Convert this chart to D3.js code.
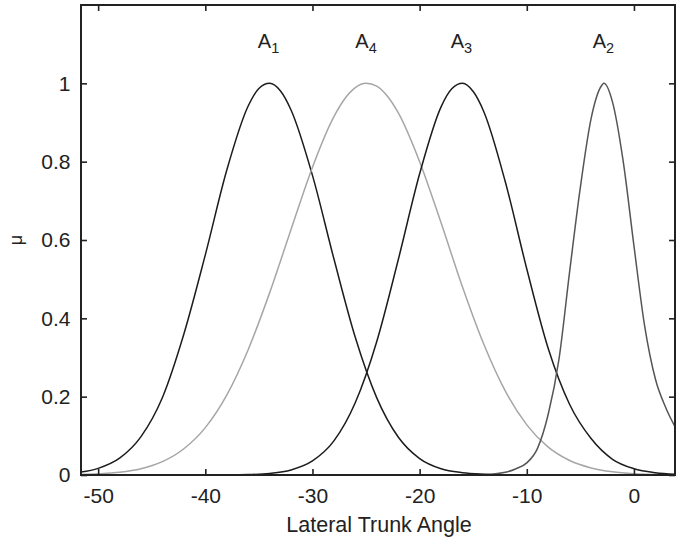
<!DOCTYPE html>
<html>
<head>
<meta charset="utf-8">
<script src="https://cdn.jsdelivr.net/npm/d3@7/dist/d3.min.js"></script>
<style>
  html, body { margin: 0; padding: 0; background: #fff; }
  svg { display: block; }
  text { font-family: "Liberation Sans", Arial, Helvetica, sans-serif; fill: #222; }
</style>
</head>
<body>
<svg id="chart" width="683" height="540"></svg>
<script>
// Membership functions of the lateral trunk angle (degrees)
const angleA1 = [-52, -50, -48, -46, -44, -42, -40, -38, -36, -35, -34, -33, -32, -30, -28, -26, -24, -22, -20, -18, -16, -14, -12];
const muA1    = [0.006, 0.017, 0.043, 0.098, 0.198, 0.360, 0.562, 0.778, 0.942, 0.987, 1.0, 0.981, 0.932, 0.765, 0.552, 0.351, 0.197, 0.097, 0.042, 0.016, 0.006, 0.002, 0.0];

const angleA4 = [-52, -50, -48, -46, -44, -42, -40, -38, -36, -34, -32, -30, -28, -27, -26, -25, -24, -23, -22, -20, -18, -16, -14, -12, -10, -8, -6, -4, -2, 0, 2, 4];
const muA4    = [0.001, 0.003, 0.007, 0.016, 0.034, 0.067, 0.121, 0.204, 0.320, 0.465, 0.627, 0.786, 0.915, 0.960, 0.989, 1.0, 0.993, 0.967, 0.925, 0.800, 0.644, 0.480, 0.333, 0.214, 0.128, 0.071, 0.037, 0.018, 0.008, 0.003, 0.001, 0.0];

const angleA3 = [-38, -36, -34, -32, -30, -28, -26, -24, -22, -20, -18, -17, -16, -15, -14, -12, -10, -8, -6, -4, -2, 0, 2, 4];
const muA3    = [0.0, 0.001, 0.004, 0.013, 0.036, 0.087, 0.185, 0.341, 0.549, 0.769, 0.940, 0.986, 1.0, 0.979, 0.927, 0.748, 0.526, 0.323, 0.180, 0.093, 0.040, 0.016, 0.006, 0.002];

const angleA2 = [-16, -14, -12, -11, -10, -9, -8, -7, -6, -5, -4, -3, -2.8, -2, -1, 0, 1, 2, 3, 4];
const muA2    = [0.0, 0.001, 0.007, 0.016, 0.031, 0.068, 0.155, 0.295, 0.52, 0.735, 0.91, 0.995, 1.0, 0.952, 0.80, 0.585, 0.38, 0.245, 0.17, 0.115];

// Set labels and where they sit (angle of each peak)
const setNames = ["1", "4", "3", "2"];
const setPeaks = [-34.1, -25.0, -16.1, -2.85];

const xTicks = [-50, -40, -30, -20, -10, 0];
const yTicks = [0, 0.2, 0.4, 0.6, 0.8, 1];

const series = [
  { x: angleA1, y: muA1, color: "#1c1c1c" },
  { x: angleA4, y: muA4, color: "#a6a6a6" },
  { x: angleA3, y: muA3, color: "#1c1c1c" },
  { x: angleA2, y: muA2, color: "#555555" }
];

const svg = d3.select("#chart");
const plotLeft = 81, plotRight = 675, plotTop = 5, plotBottom = 475;

const x = d3.scaleLinear().domain([-51.6, 3.83]).range([plotLeft, plotRight]);
const y = d3.scaleLinear().domain([0, 1.2]).range([plotBottom, plotTop]);

svg.append("rect").attr("width", 683).attr("height", 540).attr("fill", "#fff");

svg.append("defs").append("clipPath").attr("id", "plot-clip")
  .append("rect").attr("x", plotLeft).attr("y", plotTop)
  .attr("width", plotRight - plotLeft).attr("height", plotBottom - plotTop);

// Curves
const line = d3.line()
  .x(d => x(d[0]))
  .y(d => y(d[1]))
  .curve(d3.curveMonotoneX);

const curves = svg.append("g").attr("clip-path", "url(#plot-clip)");
series.forEach(s => {
  curves.append("path")
    .datum(d3.zip(s.x, s.y))
    .attr("d", line)
    .attr("fill", "none")
    .attr("stroke", s.color)
    .attr("stroke-width", 1.5)
    .attr("stroke-linejoin", "round");
});

// Axes with inward ticks on all four sides
const fmtX = d => String(d);
const fmtY = d => d3.format("~g")(d);
const tickLen = 6;

const axBottom = svg.append("g").attr("transform", `translate(0,${plotBottom})`)
  .call(d3.axisBottom(x).tickValues(xTicks).tickFormat(fmtX).tickSizeInner(-tickLen).tickSizeOuter(0).tickPadding(13));
const axTop = svg.append("g").attr("transform", `translate(0,${plotTop})`)
  .call(d3.axisTop(x).tickValues(xTicks).tickFormat("").tickSizeInner(-tickLen).tickSizeOuter(0));
const axLeft = svg.append("g").attr("transform", `translate(${plotLeft},0)`)
  .call(d3.axisLeft(y).tickValues(yTicks).tickFormat(fmtY).tickSizeInner(-tickLen).tickSizeOuter(0).tickPadding(10.5));
const axRight = svg.append("g").attr("transform", `translate(${plotRight},0)`)
  .call(d3.axisRight(y).tickValues(yTicks).tickFormat("").tickSizeInner(-tickLen).tickSizeOuter(0));

[axBottom, axTop, axLeft, axRight].forEach(g => {
  g.select(".domain").remove();
  g.selectAll(".tick line").attr("stroke", "#222").attr("stroke-width", 1.6);
  g.selectAll(".tick text").attr("font-size", 21).attr("fill", "#222")
    .style("font-family", '"Liberation Sans", Arial, sans-serif');
});

// Frame
svg.append("rect")
  .attr("x", plotLeft).attr("y", plotTop)
  .attr("width", plotRight - plotLeft).attr("height", plotBottom - plotTop)
  .attr("fill", "none").attr("stroke", "#222").attr("stroke-width", 2);

// Axis titles
svg.append("text")
  .attr("x", 379).attr("y", 532)
  .attr("text-anchor", "middle").attr("font-size", 21.5)
  .text("Lateral Trunk Angle");

svg.append("text")
  .attr("transform", `translate(22,${y(0.6)}) rotate(-90)`)
  .attr("text-anchor", "middle").attr("font-size", 18)
  .text("μ");

// Set labels A1, A4, A3, A2
setNames.forEach((n, i) => {
  const t = svg.append("text")
    .attr("x", x(setPeaks[i])).attr("y", 48)
    .attr("text-anchor", "middle").attr("font-size", 20);
  t.append("tspan").text("A");
  t.append("tspan").attr("dy", 5).attr("font-size", 14.5).text(n);
});
</script>
</body>
</html>
